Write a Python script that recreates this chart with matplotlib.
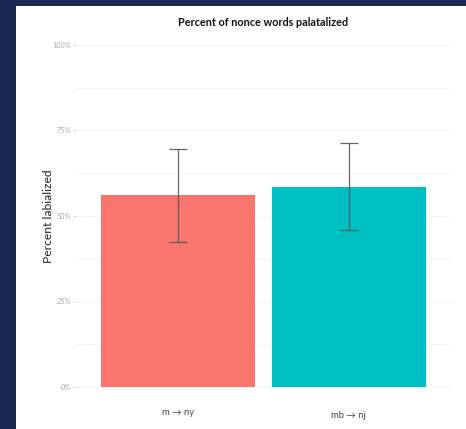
import matplotlib
matplotlib.use("Agg")
import matplotlib.pyplot as plt
import matplotlib.transforms as mtransforms
from matplotlib.patches import Rectangle
from matplotlib.ticker import FuncFormatter, MultipleLocator

plt.rcParams['font.family'] = ['Lato', 'DejaVu Sans']

categories = ['m \u2192 ny', 'mb \u2192 nj']
percent = [0.560, 0.586]
ci_half = [0.137, 0.127]
bar_colors = ['#F8766D', '#00BFC4']
y_ticks = [0, 0.25, 0.5, 0.75, 1.0]

W, H = 466, 429
fig = plt.figure(figsize=(W / 100, H / 100), dpi=100)
fig.patch.set_facecolor('#1a2954')
fig.patches.append(Rectangle((16 / W, 0), (W - 16) / W, (H - 6) / H,
                             transform=fig.transFigure, facecolor='white',
                             edgecolor='none', zorder=-5))

ax_l, ax_r, ax_t, ax_b = 75, 451.3, 27.9, 404.1
ax = fig.add_axes([ax_l / W, (H - ax_b) / H, (ax_r - ax_l) / W, (ax_b - ax_t) / H])
ax.set_zorder(2)
ax.set_facecolor('none')

x = [1, 2]
ax.bar(x, percent, width=0.9, color=bar_colors, zorder=2)
ax.errorbar(x, percent, yerr=ci_half, fmt='none', ecolor='#555555',
            elinewidth=0.9, capsize=6.3, capthick=0.9, zorder=3, alpha=0.9)

ax.set_xlim(0.4, 2.6)
ax.set_ylim(-0.05, 1.05)
ax.set_xticks(x)
ax.set_xticklabels(categories, fontsize=6.8, color='#444444')
ax.set_yticks(y_ticks)
ax.yaxis.set_minor_locator(MultipleLocator(0.125))
ax.yaxis.set_major_formatter(FuncFormatter(lambda v, p: f"{v * 100:.0f}%"))
ax.tick_params(axis='y', which='major', labelsize=5.2, labelcolor='#aaaaaa',
               color='#c8c8c8', length=1.8, width=0.6, pad=1)
ax.tick_params(axis='y', which='minor', length=0)
ax.tick_params(axis='x', length=0, pad=2.5)

ax.grid(axis='y', which='both', color='#f4f4f4', linewidth=0.7, zorder=0)
ax.set_axisbelow(True)
for s in ax.spines.values():
    s.set_visible(False)

# ggplot-style text placement: the second label sits slightly lower
lbls = ax.get_xticklabels()
lbls[1].set_transform(lbls[1].get_transform() +
                      mtransforms.ScaledTranslation(0, -3 / 100, fig.dpi_scale_trans))

fig.text((ax_l + ax_r) / 2 / W, 1 - 23 / H, 'Percent of nonce words palatalized',
         ha='center', va='center', fontsize=7.8, fontweight='bold', color='#111111')
fig.text(48 / W, 1 - 216 / H, 'Percent labialized', rotation=90,
         ha='center', va='center', fontsize=8.7, color='#222222')

fig.savefig('out.png', dpi=100, facecolor=fig.get_facecolor())
